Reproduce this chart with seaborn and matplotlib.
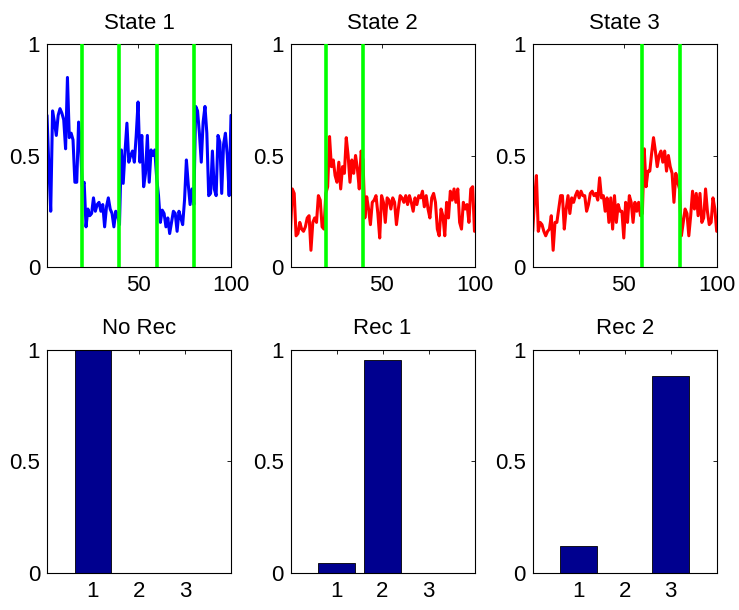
import numpy as np
import pandas as pd
import matplotlib
matplotlib.use("Agg")
import matplotlib.pyplot as plt
import seaborn as sns

# ---------------- data ----------------
t = list(range(1, 101))

state1 = [0.68, 0.45, 0.25, 0.70, 0.65, 0.59, 0.68, 0.71, 0.69, 0.66,
          0.53, 0.85, 0.58, 0.60, 0.57, 0.38, 0.38, 0.65, 0.55, 0.36,
          0.38, 0.18, 0.26, 0.23, 0.24, 0.31, 0.25, 0.28, 0.29, 0.25,
          0.28, 0.18, 0.27, 0.31, 0.26, 0.24, 0.18, 0.25, 0.23, 0.19,
          0.525, 0.375, 0.52, 0.645, 0.47, 0.50, 0.52, 0.47, 0.59, 0.74,
          0.47, 0.59, 0.36, 0.42, 0.59, 0.38, 0.525, 0.50, 0.525, 0.40,
          0.32, 0.20, 0.255, 0.24, 0.18, 0.22, 0.15, 0.20, 0.25, 0.24,
          0.16, 0.25, 0.22, 0.19, 0.30, 0.48, 0.37, 0.28, 0.35, 0.28,
          0.72, 0.70, 0.60, 0.47, 0.65, 0.72, 0.60, 0.32, 0.33, 0.52,
          0.35, 0.32, 0.59, 0.56, 0.33, 0.55, 0.60, 0.50, 0.32, 0.68]

state2 = [0.16, 0.35, 0.33, 0.14, 0.15, 0.20, 0.17, 0.16, 0.18, 0.22,
          0.23, 0.075, 0.20, 0.22, 0.20, 0.32, 0.30, 0.18, 0.17, 0.33,
          0.36, 0.585, 0.45, 0.48, 0.41, 0.38, 0.47, 0.35, 0.45, 0.42,
          0.58, 0.50, 0.38, 0.48, 0.42, 0.50, 0.44, 0.35, 0.52, 0.48,
          0.22, 0.315, 0.26, 0.19, 0.29, 0.30, 0.32, 0.24, 0.13, 0.32,
          0.29, 0.20, 0.31, 0.30, 0.26, 0.31, 0.29, 0.19, 0.26, 0.32,
          0.31, 0.29, 0.32, 0.28, 0.32, 0.29, 0.25, 0.31, 0.28, 0.32,
          0.31, 0.34, 0.27, 0.32, 0.26, 0.22, 0.31, 0.33, 0.29, 0.17,
          0.14, 0.26, 0.23, 0.14, 0.29, 0.22, 0.34, 0.30, 0.35, 0.29,
          0.35, 0.20, 0.17, 0.29, 0.26, 0.28, 0.20, 0.35, 0.36, 0.16]

state3 = [0.16, 0.30, 0.41, 0.16, 0.20, 0.19, 0.16, 0.14, 0.16, 0.17,
          0.23, 0.075, 0.20, 0.20, 0.26, 0.32, 0.32, 0.17, 0.26, 0.32,
          0.24, 0.31, 0.29, 0.32, 0.34, 0.31, 0.34, 0.32, 0.32, 0.25,
          0.28, 0.33, 0.34, 0.32, 0.33, 0.30, 0.40, 0.31, 0.32, 0.25,
          0.31, 0.20, 0.31, 0.17, 0.32, 0.20, 0.28, 0.25, 0.25, 0.13,
          0.29, 0.20, 0.32, 0.29, 0.20, 0.29, 0.25, 0.29, 0.23, 0.24,
          0.53, 0.36, 0.43, 0.43, 0.51, 0.58, 0.52, 0.45, 0.50, 0.52,
          0.47, 0.52, 0.43, 0.50, 0.45, 0.42, 0.29, 0.42, 0.38, 0.35,
          0.14, 0.20, 0.26, 0.24, 0.14, 0.23, 0.34, 0.26, 0.33, 0.23,
          0.33, 0.20, 0.22, 0.35, 0.25, 0.19, 0.20, 0.31, 0.26, 0.16]

bounds1 = [20, 40, 60, 80]
bounds2 = [20, 40]
bounds3 = [60, 80]

top_titles = ["State 1", "State 2", "State 3"]
bot_titles = ["No Rec", "Rec 1", "Rec 2"]

bar_cats = [1, 2, 3]
no_rec = [1.0, 0.0, 0.0]
rec1 = [0.045, 0.955, 0.0]
rec2 = [0.12, 0.0, 0.88]

x_ticks_top = [50, 100]
y_ticks = [0, 0.5, 1]
y_ticklabels = ["0", "0.5", "1"]

# ---------------- style ----------------
sns.set_style("white")
plt.rcParams['font.family'] = ['Liberation Sans', 'DejaVu Sans']
plt.rcParams['font.size'] = 16
plt.rcParams['text.color'] = 'black'
plt.rcParams['axes.titlecolor'] = 'black'
plt.rcParams['xtick.color'] = 'black'
plt.rcParams['ytick.color'] = 'black'

fig = plt.figure(figsize=(7.39, 6.10), dpi=100)

col_lefts = [47 / 739, 290.5 / 739, 532.7 / 739]
col_width = 184 / 739
row_top_bottom = 1 - 267 / 610
row_bot_bottom = 1 - 572.7 / 610
row_height = 223 / 610

FS = 16


def style_axes(ax):
    for s in ax.spines.values():
        s.set_visible(True)
        s.set_color("black")
        s.set_linewidth(0.8)
    ax.tick_params(direction="in", length=3, width=0.6, top=True, right=True,
                   labelsize=FS, colors="black", pad=6)
    ax.tick_params(axis="y", pad=5)
    ax.set_ylim(0, 1)
    ax.set_yticks(y_ticks)
    ax.set_yticklabels(y_ticklabels)
    ax.set_xlabel("")
    ax.set_ylabel("")


series = [state1, state2, state3]
colors = ["#0000FF", "#FF0000", "#FF0000"]
bounds = [bounds1, bounds2, bounds3]
for i in range(3):
    ax = fig.add_axes([col_lefts[i], row_top_bottom, col_width, row_height])
    df = pd.DataFrame({"t": t, "v": series[i]})
    sns.lineplot(data=df, x="t", y="v", ax=ax, color=colors[i], linewidth=2.2)
    ax.vlines(bounds[i], 0, 1, colors="#00FF00", linewidth=2.6, zorder=3)
    ax.set_xlim(1, 100)
    ax.set_xticks(x_ticks_top)
    ax.set_xticklabels([str(v) for v in x_ticks_top])
    style_axes(ax)
    ax.set_title(top_titles[i], fontsize=FS, pad=11, color="black")

bars = [no_rec, rec1, rec2]
for i in range(3):
    ax = fig.add_axes([col_lefts[i], row_bot_bottom, col_width, row_height])
    df = pd.DataFrame({"c": bar_cats, "v": bars[i]})
    sns.barplot(data=df, x="c", y="v", ax=ax, native_scale=True, color="#00008F",
                saturation=1, edgecolor="black", linewidth=0.6, errorbar=None, width=0.8)
    ax.set_xlim(0, 4)
    ax.set_xticks(bar_cats)
    ax.set_xticklabels([str(c) for c in bar_cats])
    style_axes(ax)
    ax.set_title(bot_titles[i], fontsize=FS, pad=11, color="black")

fig.savefig("out.png", dpi=100)
